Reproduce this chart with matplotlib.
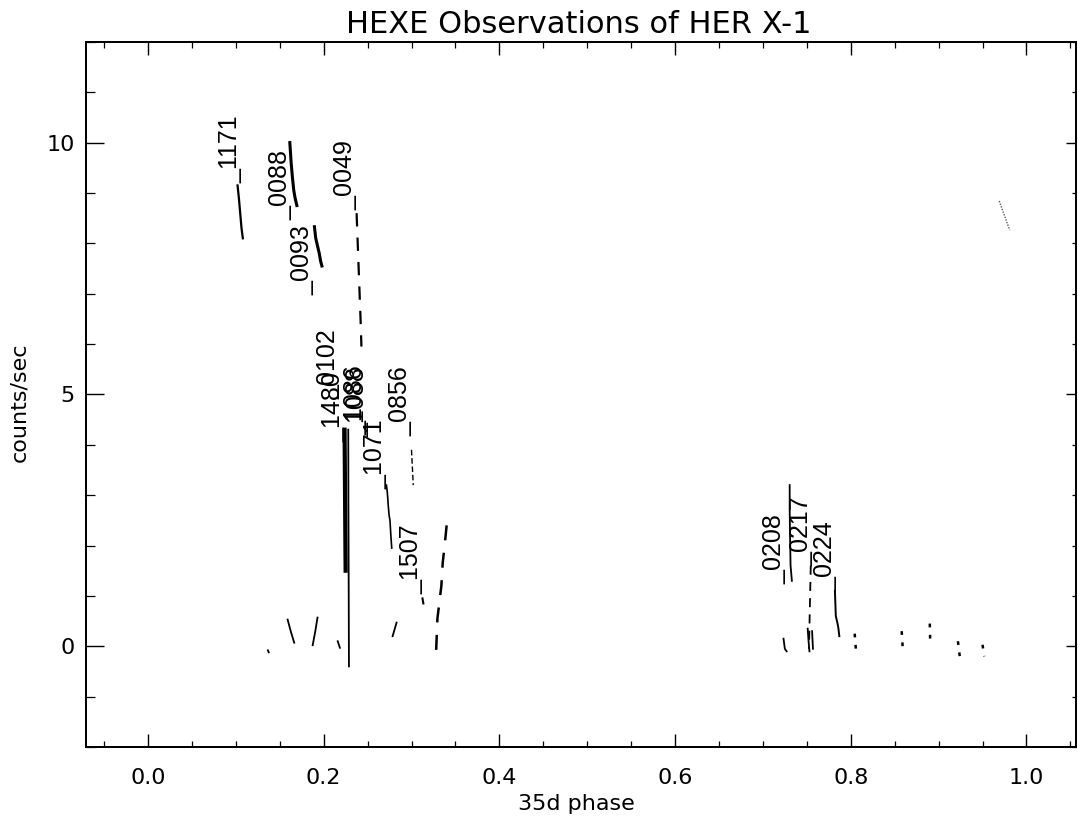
import matplotlib
matplotlib.use("Agg")
from matplotlib import pyplot as plt
from matplotlib.ticker import MultipleLocator

# HEXE light curves against 35d phase
ph_1171 = [0.102, 0.1035, 0.105, 0.1065, 0.108]
ct_1171 = [9.15, 8.9, 8.6, 8.3, 8.1]
ph_0088 = [0.1615, 0.163, 0.1645, 0.166, 0.1675, 0.1695]
ct_0088 = [10.0, 9.6, 9.3, 9.05, 8.9, 8.75]
ph_0093 = [0.1895, 0.191, 0.193, 0.195, 0.1965, 0.198]
ct_0093 = [8.33, 8.1, 7.95, 7.8, 7.65, 7.55]
ph_0049 = [0.2375, 0.239, 0.2405, 0.242, 0.243]
ct_0049 = [8.6, 7.9, 7.2, 6.5, 5.95]
ph_1480 = [0.2238, 0.2242, 0.2246, 0.225]
ct_1480 = [4.3, 3.4, 2.4, 1.5]
ph_0102 = [0.228, 0.2282, 0.2285, 0.2288]
ct_0102 = [4.3, 2.8, 1.2, -0.4]
ph_1071 = [0.2715, 0.2725, 0.2735, 0.2745, 0.2755, 0.2765, 0.2775]
ct_1071 = [3.2, 3.05, 2.8, 2.6, 2.5, 2.2, 1.95]
ph_0856 = [0.300, 0.301, 0.302]
ct_0856 = [3.9, 3.55, 3.2]
ph_1507 = [0.3125, 0.3135]
ct_1507 = [0.95, 0.85]
ph_0337 = [0.340, 0.338, 0.3355, 0.334, 0.3295, 0.3278]
ct_0337 = [2.4, 2.05, 1.65, 1.2, 0.55, -0.2]
ph_0208 = [0.7305, 0.7305, 0.731, 0.7315, 0.733]
ct_0208 = [3.2, 2.7, 2.1, 1.6, 1.3]
ph_0217 = [0.7545, 0.754, 0.7535, 0.753, 0.7525]
ct_0217 = [1.6, 1.2, 0.8, 0.4, -0.05]
ph_0224 = [0.782, 0.7825, 0.783, 0.785, 0.786, 0.787]
ct_0224 = [1.1, 0.85, 0.6, 0.45, 0.35, 0.2]

# short low-level pieces near zero
ph_low = [[0.1365, 0.1375], [0.159, 0.1625, 0.1665], [0.1875, 0.1905, 0.193],
          [0.216, 0.2185], [0.2785, 0.283], [0.7235, 0.725, 0.727],
          [0.751, 0.752, 0.753], [0.756, 0.757]]
ct_low = [[-0.08, -0.12], [0.53, 0.3, 0.07], [0.02, 0.3, 0.57],
          [0.1, -0.03], [0.2, 0.47], [0.15, -0.05, -0.1],
          [0.35, 0.1, -0.1], [0.3, -0.05]]
ph_dots = [[0.8045, 0.806], [0.858, 0.8595], [0.89, 0.8905], [0.922, 0.925], [0.95, 0.952]]
ct_dots = [[0.25, -0.1], [0.3, -0.13], [0.45, 0.05], [0.1, -0.33], [0.03, -0.2]]
ph_faint = [0.969, 0.975, 0.981]
ct_faint = [8.84, 8.55, 8.26]

label_ids = ["1171", "0088", "0093", "0049", "0102", "1480", "1088", "1086",
             "1071", "0856", "1507", "0208", "0217", "0224"]
label_phase = [0.108, 0.1645, 0.189, 0.238, 0.2196, 0.2245, 0.2526, 0.2495,
               0.273, 0.3015, 0.314, 0.727, 0.758, 0.785]
label_counts = [9.19, 8.46, 6.97, 8.66, 4.91, 4.05, 4.15, 4.2,
                3.12, 4.18, 1.03, 1.23, 1.59, 1.09]

fig = plt.figure(figsize=(10.78, 8.18), dpi=100)
ax = fig.add_axes([0.0798, 0.0868, 0.918, 0.862])

dash = (0, (6, 5))
curves = [
    (ph_1171, ct_1171, "-", 1.6),
    (ph_0088, ct_0088, "-", 2.2),
    (ph_0093, ct_0093, "-", 2.2),
    (ph_0049, ct_0049, dash, 1.6),
    (ph_1480, ct_1480, "-", 3.0),
    (ph_0102, ct_0102, "-", 1.3),
    (ph_1071, ct_1071, "-", 1.2),
    (ph_0856, ct_0856, (0, (4, 2)), 1.0),
    (ph_1507, ct_1507, "-", 1.5),
    (ph_0337, ct_0337, dash, 1.8),
    (ph_0208, ct_0208, "-", 1.3),
    (ph_0217, ct_0217, (0, (5, 4)), 1.3),
    (ph_0224, ct_0224, "-", 1.4),
]
for px, cy, ls, lw in curves:
    ax.plot(px, cy, color="black", linestyle=ls, linewidth=lw)
for px, cy in zip(ph_low, ct_low):
    ax.plot(px, cy, color="black", linewidth=1.3)
for px, cy in zip(ph_dots, ct_dots):
    ax.plot(px, cy, color="black", linestyle=(0, (1.5, 3)), linewidth=1.8)
ax.plot(ph_faint, ct_faint, color="0.35", linestyle=(0, (1, 1)), linewidth=1.0)

for name, px, cy in zip(label_ids, label_phase, label_counts):
    ax.text(px, cy, "_" + name, rotation=90, ha="right", va="bottom",
            fontsize=18, family="Liberation Sans")

ax.set_xlim(-0.0705, 1.056)
ax.set_ylim(-2, 12)
ax.xaxis.set_major_locator(MultipleLocator(0.2))
ax.xaxis.set_minor_locator(MultipleLocator(0.05))
ax.yaxis.set_major_locator(MultipleLocator(5))
ax.yaxis.set_minor_locator(MultipleLocator(1))
ax.xaxis.set_major_formatter(plt.FuncFormatter(lambda v, p: "%.1f" % v))
ax.yaxis.set_major_formatter(plt.FuncFormatter(lambda v, p: "%d" % v))

ax.tick_params(axis="x", which="major", direction="in", top=True, length=9.5, width=1.0,
               labelsize=16, pad=15)
ax.tick_params(axis="x", which="minor", direction="in", top=True, length=4.5, width=0.9)
ax.tick_params(axis="y", which="major", direction="in", length=13, width=1.0,
               labelsize=16, pad=8)
ax.tick_params(axis="y", which="minor", direction="in", length=6.5, width=0.9)
for sp in ax.spines.values():
    sp.set_linewidth(1.4)

# shorter ticks on the right-hand axis
ax_r = ax.twinx()
ax_r.set_ylim(-2, 12)
ax_r.yaxis.set_major_locator(MultipleLocator(5))
ax_r.yaxis.set_minor_locator(MultipleLocator(1))
ax_r.tick_params(axis="y", which="major", direction="in", length=7, width=1.0, labelright=False)
ax_r.tick_params(axis="y", which="minor", direction="in", length=3, width=0.9)
for sp in ax_r.spines.values():
    sp.set_linewidth(1.4)

ax.set_xlabel("35d phase", fontsize=16)
ax.xaxis.set_label_coords(0.496, -0.066)
ax.set_ylabel("counts/sec", fontsize=16)
ax.yaxis.set_label_coords(-0.057, 0.489)

fig.text(579 / 1078, 1 - 33 / 818, "HEXE Observations of HER X-1", ha="center",
         va="baseline", fontsize=22)

fig.savefig("out.png", dpi=100)
